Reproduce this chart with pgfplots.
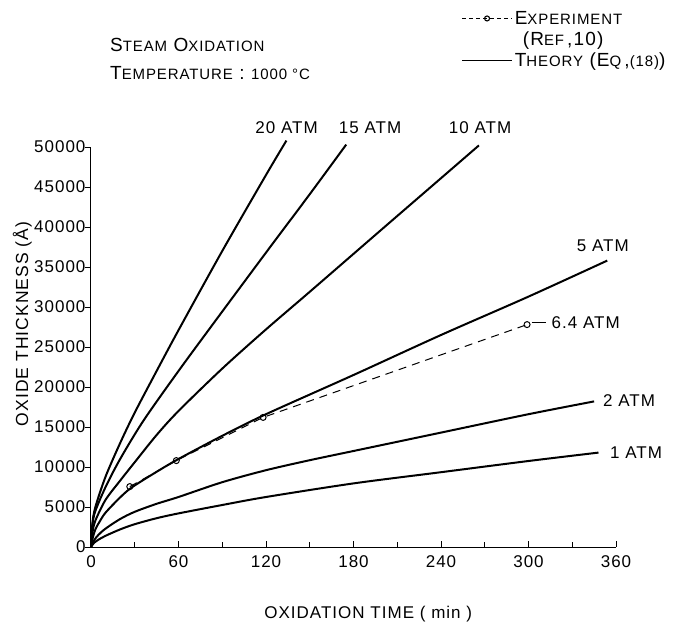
\documentclass[border=0pt]{standalone}
\usepackage{fontspec}
\setmainfont{Liberation Sans}[LetterSpace=6]
\usepackage{pgfplots}
\pgfplotsset{compat=1.18}
\newcommand\SC[1]{{\fontsize{15bp}{17bp}\selectfont #1}}
\newcommand\BIG{\fontsize{19bp}{22bp}\selectfont}
\newcommand\MID{\fontsize{17bp}{20bp}\selectfont}

\pgfplotstableread{
t y
0 0
2 500
5 900
10 1400
20 2200
30 2850
45 3600
60 4200
90 5250
120 6250
180 7950
240 9350
300 10750
348 11800
}\atmone
\pgfplotstableread{
t y
0 0
2 800
5 1500
10 2300
20 3500
30 4400
45 5400
60 6250
90 8100
120 9600
150 10850
180 12000
240 14300
300 16600
345 18200
}\atmtwo
\pgfplotstableread{
t y
0 0
1 1000
3 2200
6 3200
10 4300
20 6200
28 7450
45 9400
60 11000
90 13900
120 16600
180 21500
240 26500
300 31300
354 35800
}\atmfive
\pgfplotstableread{
t y
0 0
1 1800
3 3300
10 5900
20 8300
30 10600
45 14000
60 17000
90 22300
120 27200
150 31900
200 39800
240 46100
266 50200
}\atmten
\pgfplotstableread{
t y
0 0
1 2800
3 4500
10 7500
20 11000
36 15800
60 22000
85 28200
120 36800
150 44100
175 50300
}\atmfifteen
\pgfplotstableread{
t y
0 0
1 3000
3 5000
10 8800
20 13000
30 16800
45 22000
60 27100
90 37000
120 46500
134 50800
}\atmtwenty
\pgfplotstableread{
t y
26.6 7550
58.5 10800
118 16200
299 27800
}\experiment

\begin{document}
\begin{tikzpicture}
\path[use as bounding box] (-91bp,-81bp) rectangle (585bp,547bp);
\begin{axis}[
  at={(0bp,0bp)}, anchor=south west, scale only axis,
  width=525bp, height=400bp,
  xmin=0, xmax=360, ymin=0, ymax=50000,
  axis lines*=left,
  axis line style={line width=1bp},
  clip=false,
  xtick={0,60,...,360},
  minor xtick={30,90,...,330},
  ytick={0,5000,...,50000},
  xtick align=inside, ytick align=outside,
  major tick length=6bp, minor tick length=5bp,
  every tick/.style={black, line width=0.9bp},
  scaled y ticks=false,
  /pgf/number format/1000 sep={},
  /pgf/number format/assume math mode=true,
  tick label style={font=\MID},
  yticklabel style={xshift=4bp},
  xticklabel style={yshift=-5bp},
  xlabel={OXIDATION TIME ( min )},
  xlabel style={at={(axis description cs:0.528,-0.168)}, anchor=center, font=\MID},
  ylabel={OXIDE THICKNESS (Å)},
  ylabel style={at={(axis description cs:-0.131,0.5575)}, anchor=center, font=\fontsize{17.5bp}{20bp}\selectfont},
  legend image code/.code={\draw[mark repeat=2,mark phase=2,#1] plot coordinates {(0bp,0bp) (25bp,0bp) (50bp,0bp)};},
  legend style={draw=none, fill=none, at={(axis description cs:0.705,1.345)}, anchor=north west,
    font=\BIG, inner sep=0pt, row sep=2bp, legend cell align=left},
  theory/.style={black, line width=2bp, smooth},
]
\addlegendimage{black, line width=1.1bp, dash pattern=on 4bp off 3bp, mark=o, mark size=2.5bp, mark options={solid, fill=white}}
\addlegendimage{empty legend}
\addlegendimage{black, line width=1.5bp}
\legend{{E\SC{XPERIMENT}}, {\hspace{8bp}(R\SC{EF}\,,10)}, {T\SC{HEORY} (E\SC{Q}\,,\SC{(18)})}}

\addplot[theory] table[x=t,y=y] {\atmone};
\addplot[theory] table[x=t,y=y] {\atmtwo};
\addplot[theory] table[x=t,y=y] {\atmfive};
\addplot[theory] table[x=t,y=y] {\atmten};
\addplot[theory] table[x=t,y=y] {\atmfifteen};
\addplot[theory] table[x=t,y=y] {\atmtwenty};
\addplot[black, line width=1bp, dash pattern=on 8bp off 6bp, mark=o, mark size=3bp, mark options={solid, fill=white}] table[x=t,y=y] {\experiment};

\node[font=\MID] at (axis cs:134.1,52400) {20 ATM};
\node[font=\MID] at (axis cs:191.4,52400) {15 ATM};
\node[font=\MID] at (axis cs:266.8,52400) {10 ATM};
\node[font=\MID, anchor=west, inner sep=0pt] at (axis cs:333,37700) {5 ATM};
\node[font=\MID, anchor=west, inner sep=0pt] at (axis cs:302,28000) {\rule[0.32em]{14bp}{1bp}\hspace{6bp}6.4 ATM};
\node[font=\MID, anchor=west, inner sep=0pt] at (axis cs:351,18300) {2 ATM};
\node[font=\MID, anchor=west, inner sep=0pt] at (axis cs:355.8,11750) {1 ATM};
\node[font=\BIG, anchor=west, inner sep=0pt] at (axis cs:13,62700) {S\SC{TEAM} O\SC{XIDATION}};
\node[font=\BIG, anchor=west, inner sep=0pt] at (axis cs:13,59300) {T\SC{EMPERATURE} : \SC{1000 °C}};
\end{axis}
\end{tikzpicture}
\end{document}
